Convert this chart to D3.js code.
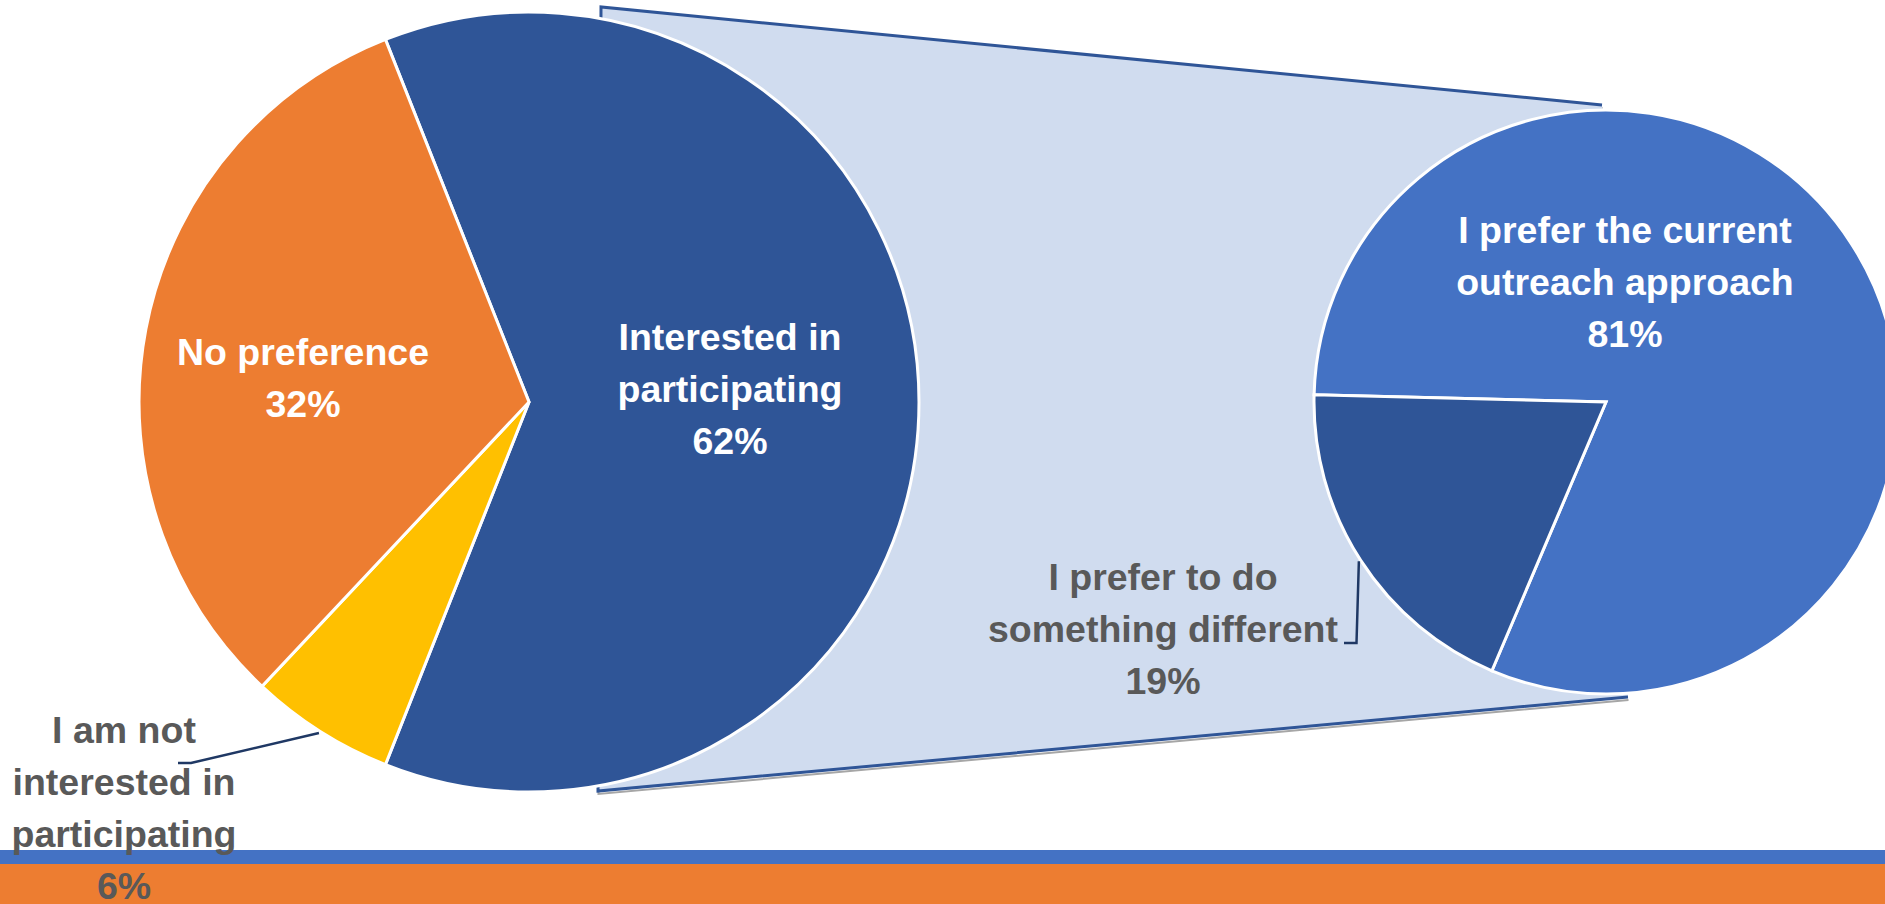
<!DOCTYPE html>
<html>
<head>
<meta charset="utf-8">
<script src="https://cdn.jsdelivr.net/npm/d3@7"></script>
<style>
  html, body { margin: 0; padding: 0; background: #ffffff; overflow: hidden; }
  svg { display: block; }
</style>
</head>
<body>
<svg id="chart" width="1885" height="904"></svg>
<script>
// ---------------- DATA ----------------
const mainCategories = ["Interested in participating", "I am not interested in participating", "No preference"];
const mainValues = [62, 6, 32];
const mainLabelLines = [
  ["Interested in", "participating", "62%"],
  ["I am not", "interested in", "participating", "6%"],
  ["No preference", "32%"]
];
const subCategories = ["I prefer the current outreach approach", "I prefer to do something different"];
const subValues = [81, 19];
const subLabelLines = [
  ["I prefer the current", "outreach approach", "81%"],
  ["I prefer to do", "something different", "19%"]
];

// ---------------- LAYOUT / STYLE ----------------
const W = 1885, H = 904;
const mainColors = ["#2F5597", "#FFC000", "#ED7D31"];
const subColors = ["#4472C4", "#2F5597"];
const deg = Math.PI / 180;

const mainC = { x: 529, y: 402, r: 390, start: -21.6 };
const subC = { x: 1606, y: 402, r: 292, start: -88.6 };

const svg = d3.select("#chart");

// bottom decorative bands
svg.append("rect").attr("x", 0).attr("y", 850).attr("width", W).attr("height", 14).attr("fill", "#4472C4");
svg.append("rect").attr("x", 0).attr("y", 864).attr("width", W).attr("height", 40).attr("fill", "#ED7D31");

// connector (zoom) shape between the two pies
const conn = [[601, 7], [1602, 105], [1628, 697], [598, 791]];
const line = d3.line();
// outline drawn as an open path: bottom-right -> bottom-left -> top-left -> top-right
const outline = [conn[2], conn[3], conn[0], conn[1]];
svg.append("path").attr("d", line(outline.map(p => [p[0] + 0.5, p[1] + 3])))
  .attr("fill", "none").attr("stroke", "#A6A6A6").attr("stroke-width", 2);
svg.append("path").attr("d", line(conn) + "Z").attr("fill", "#D0DCEF").attr("stroke", "none");
svg.append("path").attr("d", line(outline))
  .attr("fill", "none").attr("stroke", "#2F5597").attr("stroke-width", 3)
  .attr("stroke-linejoin", "miter");

// ---------------- PIES ----------------
function drawPie(cfg, values, colors) {
  const pie = d3.pie().sort(null).value(d => d)
    .startAngle(cfg.start * deg).endAngle((cfg.start + 360) * deg);
  const arcs = pie(values);
  const arc = d3.arc().innerRadius(0).outerRadius(cfg.r);
  const g = svg.append("g").attr("transform", `translate(${cfg.x},${cfg.y})`);
  g.selectAll("path").data(arcs).join("path")
    .attr("d", arc)
    .attr("fill", (d, i) => colors[i])
    .attr("stroke", "#ffffff")
    .attr("stroke-width", 3)
    .attr("stroke-linejoin", "miter");
  return arcs;
}
const mainArcs = drawPie(mainC, mainValues, mainColors);
const subArcs = drawPie(subC, subValues, subColors);

// ---------------- LEADER LINES ----------------
function edgePoint(cfg, a) {
  const m = (a.startAngle + a.endAngle) / 2;
  return [cfg.x + Math.sin(m) * (cfg.r + 2), cfg.y - Math.cos(m) * (cfg.r + 2)];
}
const leaders = [
  [edgePoint(mainC, mainArcs[1]), [191, 763], [178, 763]],
  [edgePoint(subC, subArcs[1]), [1356.5, 643], [1344, 643]]
];
leaders.forEach(pts => {
  svg.append("path").attr("d", line(pts)).attr("fill", "none")
    .attr("stroke", "#1F3864").attr("stroke-width", 2.5);
});

// ---------------- LABELS ----------------
const lineH = 52;
function drawLabel(x, y0, lines, color) {
  const t = svg.append("text")
    .attr("text-anchor", "middle")
    .attr("font-family", "'Liberation Sans', Arial, sans-serif")
    .attr("font-weight", "bold")
    .attr("font-size", "37.5px")
    .attr("fill", color);
  lines.forEach((s, i) => {
    t.append("tspan").attr("x", x).attr("y", y0 + i * lineH).text(s);
  });
}
drawLabel(730, 350, mainLabelLines[0], "#ffffff");
drawLabel(124, 743, mainLabelLines[1], "#595959");
drawLabel(303, 365, mainLabelLines[2], "#ffffff");
drawLabel(1625, 243, subLabelLines[0], "#ffffff");
drawLabel(1163, 590, subLabelLines[1], "#595959");
</script>
</body>
</html>
